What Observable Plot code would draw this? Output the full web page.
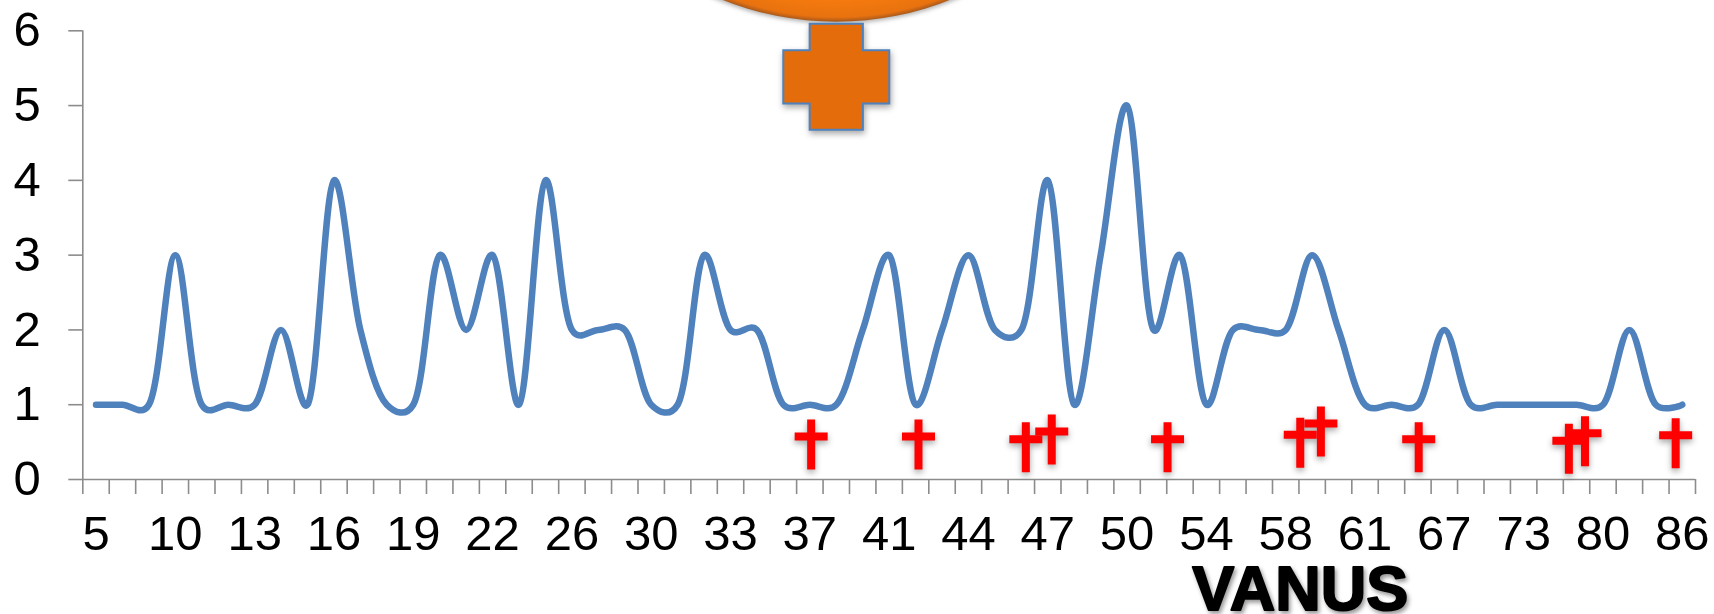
<!DOCTYPE html>
<html><head><meta charset="utf-8">
<style>html,body{margin:0;padding:0;background:#fff}svg{display:block}</style>
<script src="https://cdn.jsdelivr.net/npm/d3@7"></script>
<script src="https://cdn.jsdelivr.net/npm/@observablehq/plot@0.6"></script>
</head><body><div id="chart"></div>
<script>
const ageLabels = ["5","10","13","16","19","22","26","30","33","37","41","44","47","50","54","58","61","67","73","80","86"];
const counts = [1,1,1,3,1,1,1,2,1,4,2,1,1,3,2,3,1,4,2,2,2,1,1,3,2,2,1,1,1,2,3,1,2,3,2,2,4,1,3,5,2,3,1,2,2,2,3,2,1,1,1,2,1,1,1,1,1,1,2,1,1];
const crossX = [27.05,31.11,35.17,36.15,40.53,45.55,46.33,50.03,55.71,56.32,59.75];
const crossY = [0.575,0.575,0.539,0.642,0.539,0.598,0.749,0.539,0.517,0.619,0.592];

const indices = counts.map((_, i) => i);
const boundaries = [...indices.map(i => i - 0.5), counts.length - 0.5];
const labelPositions = ageLabels.map((_, i) => i * 3);
const crosses = crossX.map((x, i) => ({x, y: crossY[i]}));

const crossSymbol = {draw(c) {
  const a = 16.5, t = 4, up = 17, down = 33;
  c.moveTo(-t,-up); c.lineTo(t,-up); c.lineTo(t,-t); c.lineTo(a,-t); c.lineTo(a,t); c.lineTo(t,t);
  c.lineTo(t,down); c.lineTo(-t,down); c.lineTo(-t,t); c.lineTo(-a,t); c.lineTo(-a,-t); c.lineTo(-t,-t); c.closePath();
}};
const plusSymbol = {draw(c) {
  const a = 53, t = 26.6;
  c.moveTo(-t,-a); c.lineTo(t,-a); c.lineTo(t,-t); c.lineTo(a,-t); c.lineTo(a,t); c.lineTo(t,t);
  c.lineTo(t,a); c.lineTo(-t,a); c.lineTo(-t,t); c.lineTo(-a,t); c.lineTo(-a,-t); c.lineTo(-t,-t); c.closePath();
}};
const gradient = () => {
  const s = d3.create("svg:defs");
  const g = s.append("radialGradient").attr("id","disc");
  g.append("stop").attr("offset","93%").attr("stop-color","#f57a0e");
  g.append("stop").attr("offset","98.5%").attr("stop-color","#e8720f");
  g.append("stop").attr("offset","100%").attr("stop-color","#a9591c");
  return s.node();
};
const axisColor = "#8c8c8c";

const chart = Plot.plot({
  width: 1714, height: 614,
  marginLeft: 82.3, marginRight: 19, marginTop: 30.3, marginBottom: 135,
  style: {fontFamily: "'Liberation Sans', Arial, sans-serif", background: "#fff", color: "#000"},
  x: {type: "linear", domain: [-0.5, counts.length - 0.5], axis: null},
  y: {domain: [0, 6], axis: null},
  marks: [
    gradient,
    Plot.ruleX([-0.5], {stroke: axisColor, strokeWidth: 1.6}),
    Plot.ruleY([0], {stroke: axisColor, strokeWidth: 1.6}),
    Plot.axisY({ticks: [0,1,2,3,4,5,6], tickSize: 14, tickPadding: 28, fontSize: 49, stroke: axisColor, strokeWidth: 1.6, fill: "#000", label: null, tickFormat: d3.format("d")}),
    Plot.axisX({ticks: boundaries, tickSize: 15, stroke: axisColor, strokeWidth: 1.6, label: null, tickFormat: () => ""}),
    Plot.axisX({ticks: labelPositions, tickSize: 0, tickPadding: 36, fontSize: 49, fill: "#000", label: null, tickFormat: i => ageLabels[i / 3]}),
    Plot.line(indices, {x: i => i, y: i => counts[i], curve: "catmull-rom", tension: 0.25, stroke: "#4f81bd", strokeWidth: 6.5, strokeLinejoin: "round", strokeLinecap: "round"}),
    Plot.dot(crosses, {x: "x", y: "y", r: 10, symbol: crossSymbol, fill: "#ff0000", stroke: "none", imageFilter: "drop-shadow(0px 3px 3px rgba(0,0,0,0.35))"}),
    Plot.dot([{x: 28, y: 10.24}], {x: "x", y: "y", r: 308, fill: "url(#disc)", stroke: "none", imageFilter: "drop-shadow(0px 2px 2px rgba(0,0,0,0.3))"}),
    Plot.dot([{x: 28, y: 5.384}], {x: "x", y: "y", r: 30, symbol: plusSymbol, fill: "#e46c0a", stroke: "#4f81bd", strokeWidth: 2, imageFilter: "drop-shadow(1px 3px 3px rgba(0,0,0,0.35))"}),
    Plot.text(["VANUS"], {x: 45.55, y: -1.75, text: d => d, fontSize: 63, fontWeight: "bold", fill: "#000", stroke: "#000", strokeWidth: 2, lineAnchor: "bottom", imageFilter: "drop-shadow(2px 3px 2px rgba(0,0,0,0.4))"})
  ]
});
document.getElementById("chart").append(chart);
</script></body></html>
